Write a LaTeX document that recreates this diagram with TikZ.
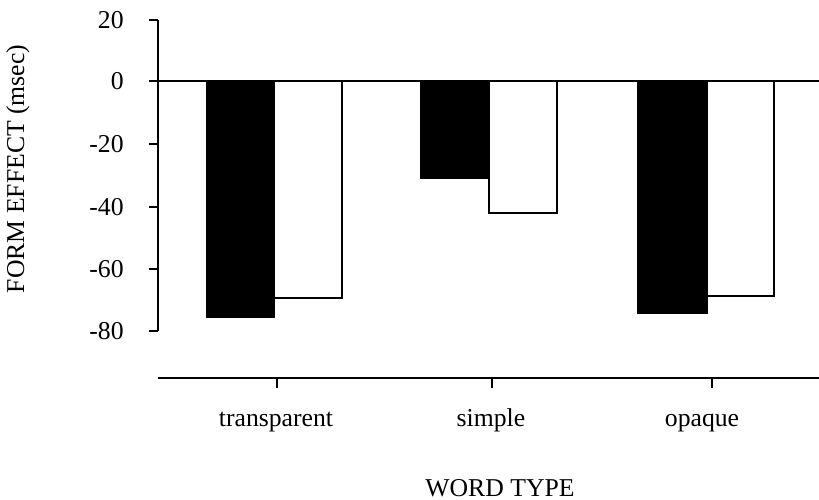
\documentclass[tikz,border=0pt]{standalone}
\usepackage{fontspec}
\setmainfont{Liberation Serif}
\begin{document}
\begin{tikzpicture}[x=0.5pt,y=-0.5pt,
  font=\fontsize{12.85}{15}\selectfont,
  axisline/.style={line width=0.8pt},
  barblack/.style={fill=black,draw=black,line width=1pt},
  barwhite/.style={fill=white,draw=black,line width=1pt},
  ticklab/.style={anchor=east,inner sep=0pt},
  catlab/.style={anchor=base,inner sep=0pt}]
\useasboundingbox (0,0) rectangle (819,499);
% bars
\draw[barblack] (207,81) rectangle (274,317);
\draw[barwhite] (274,81) rectangle (342,298);
\draw[barblack] (421,81) rectangle (489,178);
\draw[barwhite] (489,81) rectangle (557,213);
\draw[barblack] (638,81) rectangle (707,313);
\draw[barwhite] (707,81) rectangle (774,296);
% y axis
\draw[axisline] (158,20) -- (158,331);
\foreach \yy/\lab in {20/20,81/0,144/-20,207/-40,269/-60,331/-80}{
  \draw[axisline] (149,\yy) -- (158,\yy);
  \node[ticklab] (t\lab) at (124,\yy) {\lab};
}
% zero line
\draw[line width=1pt] (158,81) -- (819,81);
% x axis
\draw[axisline] (158,378) -- (819,378);
\foreach \xx in {277,492,712}{
  \draw[axisline] (\xx,378) -- (\xx,388);
}
\node[catlab] (ctr) at (276,426) {transparent};
\node[catlab] (csi) at (491,426) {simple};
\node[catlab] (cop) at (702,426) {opaque};
\node[catlab] (xlab) at (500,496) {WORD TYPE};
\node[rotate=90,inner sep=0pt] (ylab) at (18,169) {FORM EFFECT (msec)};
\end{tikzpicture}
\end{document}
